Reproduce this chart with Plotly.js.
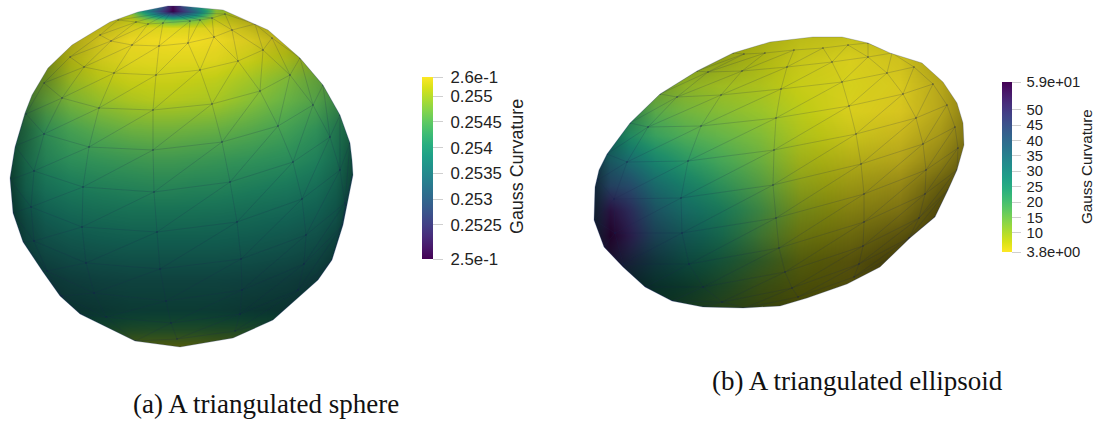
<!DOCTYPE html>
<html><head><meta charset="utf-8">
<script src="https://cdn.plot.ly/plotly-3.0.1.min.js"></script>
<style>html,body{margin:0;padding:0;background:#fff}#c{width:1098px;height:423px}</style>
</head><body><div id="c"></div>
<script>
// ---------- Sphere: surface samples ----------
const sphereX=[10,25,45,70,100,130,150,172,195,215,250,285,315,335,353];
const sphereY=[7,11,15,20,28,40,60,80,100,130,160,190,220,250,280,310,330,347];
// position on the colour bar (0 = bottom, 1 = top)
const sphereLevel=[
[1,1,1,1,.98,.9,.55,.02,.5,.9,.98,1,1,1,1],
[1,1,1,1,.98,.85,.42,0,.38,.85,.98,1,1,1,1],
[1,1,1,1,.98,.9,.62,.3,.55,.9,.98,1,1,1,1],
[.98,.98,.98,.98,.98,.95,.85,.75,.82,.95,.98,.98,.98,.98,.98],
[.97,.97,.97,.97,.98,.98,.98,.97,.98,.99,.98,.97,.97,.97,.97],
[.96,.96,.96,.98,.99,1,1,1,1,1,.99,.98,.96,.95,.95],
[.9,.9,.92,.95,.97,.98,.98,.98,.98,.98,.95,.92,.88,.87,.87],
[.84,.84,.86,.9,.93,.95,.95,.95,.94,.93,.89,.84,.81,.8,.8],
[.79,.79,.81,.84,.88,.91,.92,.92,.91,.9,.85,.8,.77,.75,.75],
[.67,.68,.7,.74,.78,.81,.82,.82,.81,.8,.77,.73,.69,.66,.65],
[.63,.64,.66,.68,.7,.72,.73,.73,.72,.71,.69,.67,.64,.62,.61],
[.58,.59,.6,.62,.64,.65,.66,.66,.65,.65,.63,.61,.59,.58,.57],
[.54,.54,.55,.57,.59,.6,.6,.6,.6,.59,.58,.56,.55,.54,.54],
[.51,.51,.52,.53,.54,.55,.55,.55,.55,.55,.54,.53,.52,.51,.51],
[.48,.48,.48,.49,.5,.51,.51,.51,.51,.51,.5,.49,.49,.49,.49],
[.5,.5,.5,.5,.52,.54,.55,.55,.55,.54,.52,.52,.52,.55,.55],
[.72,.72,.7,.68,.7,.74,.74,.74,.74,.74,.74,.76,.78,.78,.78],
[.92,.92,.92,.92,.92,.92,.92,.92,.92,.92,.92,.92,.92,.92,.92]];
// darkening of the surface by the lighting (0 = none, 1 = black)
const sphereShade=[
[.4,.4,.4,.4,.3,.15,.1,.1,.1,.15,.3,.4,.4,.4,.4],
[.4,.4,.4,.4,.3,.15,.1,.1,.1,.15,.3,.4,.4,.4,.4],
[.4,.4,.4,.4,.3,.15,.1,.08,.1,.15,.3,.4,.4,.4,.4],
[.4,.4,.4,.4,.28,.15,.1,.08,.1,.14,.28,.4,.4,.4,.4],
[.4,.4,.4,.35,.22,.11,.08,.06,.08,.1,.2,.32,.4,.4,.4],
[.4,.4,.4,.3,.16,.08,.06,.05,.05,.07,.13,.25,.4,.4,.4],
[.45,.45,.42,.24,.13,.08,.07,.07,.07,.08,.11,.18,.3,.42,.45],
[.48,.48,.38,.2,.13,.1,.09,.09,.09,.09,.11,.15,.25,.36,.45],
[.52,.48,.31,.18,.14,.12,.11,.11,.11,.11,.12,.15,.22,.34,.45],
[.6,.48,.28,.2,.18,.17,.17,.17,.17,.17,.18,.19,.24,.36,.52],
[.62,.44,.3,.24,.23,.23,.23,.23,.23,.23,.23,.24,.28,.38,.58],
[.64,.46,.35,.31,.3,.29,.29,.29,.29,.29,.3,.31,.35,.44,.62],
[.68,.54,.43,.39,.38,.37,.37,.37,.37,.37,.38,.39,.43,.5,.68],
[.72,.6,.52,.48,.46,.45,.45,.45,.45,.45,.46,.48,.52,.6,.72],
[.75,.7,.62,.58,.56,.55,.55,.55,.55,.55,.56,.58,.62,.7,.75],
[.75,.72,.7,.66,.64,.62,.62,.62,.62,.62,.64,.66,.7,.72,.75],
[.75,.72,.72,.7,.66,.64,.63,.63,.63,.64,.64,.66,.7,.72,.75],
[.72,.72,.72,.7,.66,.62,.6,.6,.6,.62,.64,.68,.72,.72,.72]];
const sphereOutlineX=[168,138,110,72,48,32,25,15,10,13,23,43,60,80,135,180,233,273,318,332,343,353,352,350,340,323,300,268,223,180];
const sphereOutlineY=[6,12,22,45,68,95,113,147,178,213,242,272,296,314,341,347,338,320,280,260,225,175,160,143,115,85,58,30,10,6];
const spherePole=[171,12];
// mesh vertices, one list per meridian
const sphereMeshX=[
[118,100,70,44,26,15,10,13,23,43,60],
[136,111,84,62,44,34,31,34,47,62,80],
[148,132,114,99,89,83,82,86,94,106,135],
[163,159,156,153,153,154,157,160,166,171,177],
[190,188,200,212,222,230,237,241,242,240,235],
[200,214,238,260,278,293,302,306,304,298,275],
[212,232,263,290,313,330,340,345,343,332,318],
[225,255,272,300,323,340,350,352,346,334,320]];
const sphereMeshY=[
[20,35,57,83,114,146,180,213,242,272,296],
[22,41,67,98,134,171,207,241,271,296,314],
[24,45,73,108,147,187,227,263,293,317,341],
[23,46,75,110,150,192,232,269,301,323,339],
[21,43,70,104,142,182,222,259,290,314,331],
[20,37,61,91,126,162,199,235,264,290,319],
[18,30,50,75,105,137,170,203,225,260,280],
[14,24,38,58,85,115,143,177,205,258,278]];

// ---------- Ellipsoid ----------
const ellX=[594,610,630,655,685,720,760,800,850,900,940,965];
const ellY=[37,60,85,110,135,160,185,210,235,260,285,308];
const ellLevel=[
[.92,.92,.92,.92,.92,.94,.95,.96,.97,.98,.98,.98],
[.88,.88,.88,.89,.9,.92,.94,.96,.98,.99,.99,.99],
[.78,.8,.83,.86,.88,.9,.92,.95,.97,.99,1,1],
[.68,.7,.73,.78,.82,.85,.88,.93,.98,1,1,1],
[.58,.6,.64,.7,.75,.79,.84,.92,.97,1,1,1],
[.42,.44,.48,.58,.66,.73,.81,.92,.97,1,1,1],
[.34,.3,.32,.48,.58,.68,.78,.91,.97,1,1,1],
[.3,.09,.2,.4,.52,.62,.75,.9,.97,1,1,1],
[.28,.02,.14,.36,.5,.62,.78,.92,.97,1,1,1],
[.3,.14,.25,.42,.55,.65,.78,.92,.98,1,1,1],
[.42,.4,.44,.55,.62,.72,.85,.93,.98,1,1,1],
[.6,.6,.62,.66,.72,.8,.88,.95,.98,1,1,1]];
const ellShade=[
[.35,.35,.35,.35,.35,.32,.25,.18,.16,.22,.35,.35],
[.35,.35,.35,.35,.33,.28,.2,.13,.1,.16,.33,.4],
[.4,.4,.38,.32,.2,.16,.14,.1,.09,.13,.28,.42],
[.45,.45,.38,.18,.15,.13,.11,.1,.1,.15,.28,.45],
[.5,.42,.23,.16,.14,.13,.13,.14,.15,.22,.35,.5],
[.58,.33,.23,.19,.17,.16,.18,.22,.25,.3,.45,.6],
[.62,.33,.26,.25,.24,.24,.26,.3,.35,.42,.6,.7],
[.68,.45,.35,.32,.3,.32,.35,.4,.45,.52,.7,.75],
[.72,.55,.42,.42,.42,.42,.45,.5,.55,.65,.75,.8],
[.72,.65,.6,.58,.55,.55,.58,.6,.65,.75,.8,.8],
[.78,.75,.75,.7,.68,.65,.65,.66,.68,.8,.8,.8],
[.78,.78,.78,.76,.72,.7,.7,.7,.72,.8,.8,.8]];
const ellOutlineX=[770,813,842,868,890,922,943,957,963,964,957,948,935,910,880,847,807,780,743,703,672,645,623,604,594,595,599,607,630,660,697,733];
const ellOutlineY=[42,37,37,43,53,63,82,103,123,145,170,190,217,238,267,284,298,306,308,307,301,287,267,247,220,187,170,154,123,94,71,53];
const ellMeshX=[
[733,697,660,630,607,598,594,604,623,645,672],
[744,708,677,648,627,614,615,623,645,672,700],
[765,742,721,701,688,681,682,689,703,722,745],
[794,787,781,776,774,773,776,779,785,792,798],
[823,832,842,849,856,861,864,864,863,859,854],
[848,868,887,903,916,923,926,925,919,909,890],
[868,892,914,933,947,955,958,957,948,935,910]];
const ellMeshY=[
[53,71,94,123,154,180,220,247,267,287,301],
[54,72,97,127,162,199,233,264,287,301,307],
[53,71,95,126,161,198,233,264,287,302,308],
[50,67,89,118,150,185,218,248,272,288,297],
[48,62,82,106,134,164,194,222,246,264,277],
[45,57,73,94,118,144,170,194,218,238,258],
[43,53,67,84,105,127,148,170,190,217,238]];

// ---------- Colour bars ----------
const sphereMin=0.25184, sphereMax=0.25537;
const sphereTicks=[0.25184,0.2525,0.253,0.2535,0.254,0.2545,0.255,0.25537];
const sphereTickText=['2.5e-1','0.2525','0.253','0.2535','0.254','0.2545','0.255','2.6e-1'];
const ellMin=3.8, ellMax=59;
const ellTicks=[3.8,10,15,20,25,30,35,40,45,50,59];
const ellTickText=['3.8e+00','10','15','20','25','30','35','40','45','50','5.9e+01'];

const W=1098,H=423;
const levels=(m,lo,hi)=>m.map(r=>r.map(v=>lo+v*(hi-lo)));
const shadeScale=[[0,'rgba(0,0,0,0)'],[1,'rgba(0,0,0,1)']];
function meshLines(mx,my,pole){
  const X=[],Y=[];
  const add=(a,b,c,d)=>{X.push(a,c,null);Y.push(b,d,null);};
  for(let i=0;i<mx.length;i++)for(let k=0;k<mx[i].length;k++){
    if(k+1<mx[i].length)add(mx[i][k],my[i][k],mx[i][k+1],my[i][k+1]);
    if(i+1<mx.length){
      add(mx[i][k],my[i][k],mx[i+1][k],my[i+1][k]);
      if(k+1<mx[i].length)add(mx[i+1][k],my[i+1][k],mx[i][k+1],my[i][k+1]);
    }
    if(pole&&k===0)add(pole[0],pole[1],mx[i][0],my[i][0]);
  }
  return {X,Y};
}
function poly(xs,ys){return xs.map((x,i)=>(i?'L':'M')+x+','+ys[i]).join(' ')+' Z';}
const sM=meshLines(sphereMeshX,sphereMeshY,spherePole), eM=meshLines(ellMeshX,ellMeshY,null);
const lineStyle={color:'rgba(25,35,80,0.27)',width:0.7};
const cbBase={lenmode:'pixels',thicknessmode:'pixels',outlinewidth:0,xpad:0,ypad:0,xanchor:'left',yanchor:'top',
  ticks:'outside',tickcolor:'#cfcfcf',tickwidth:1,tickmode:'array'};
const data=[
 {type:'heatmap',x:sphereX,y:sphereY,z:levels(sphereLevel,sphereMin,sphereMax),zmin:sphereMin,zmax:sphereMax,zsmooth:'best',colorscale:'Viridis',
  colorbar:Object.assign({},cbBase,{x:422/W,y:1-77/H,len:182,thickness:11,ticklen:10,tickvals:sphereTicks,ticktext:sphereTickText.map(t=>'\u00a0'+t),
    tickfont:{family:'Liberation Sans',size:16.8,color:'#222'}})},
 {type:'heatmap',x:sphereX,y:sphereY,z:sphereShade,zmin:0,zmax:1,zsmooth:'best',colorscale:shadeScale,showscale:false},
 {type:'heatmap',x:ellX,y:ellY,z:ellLevel.map(r=>r.map(v=>ellMax-v*(ellMax-ellMin))),zmin:ellMin,zmax:ellMax,zsmooth:'best',colorscale:'Viridis',reversescale:true,
  colorbar:Object.assign({},cbBase,{x:1002/W,y:1-82/H,len:170,thickness:9.5,ticklen:9,tickvals:ellTicks,ticktext:ellTickText.map(t=>'\u2009'+t),
    tickfont:{family:'Liberation Sans',size:14.8,color:'#222'}})},
 {type:'heatmap',x:ellX,y:ellY,z:ellShade,zmin:0,zmax:1,zsmooth:'best',colorscale:shadeScale,showscale:false},
 {type:'scatter',mode:'lines',x:sM.X,y:sM.Y,line:lineStyle,hoverinfo:'skip',showlegend:false},
 {type:'scatter',mode:'lines',x:eM.X,y:eM.Y,line:lineStyle,hoverinfo:'skip',showlegend:false},
 {type:'scatter',mode:'markers',x:sphereMeshX.flat().concat(ellMeshX.flat()),y:sphereMeshY.flat().concat(ellMeshY.flat()),
  marker:{size:1.8,color:'rgba(20,30,80,0.35)'},hoverinfo:'skip',showlegend:false}
];
const layout={width:W,height:H,margin:{l:0,r:0,t:0,b:0},paper_bgcolor:'#fff',plot_bgcolor:'#fff',showlegend:false,
 xaxis:{range:[0,W],visible:false,fixedrange:true},yaxis:{range:[H,0],visible:false,fixedrange:true},
 shapes:[
  {type:'path',layer:'above',xref:'x',yref:'y',fillrule:'evenodd',fillcolor:'#fff',line:{width:0},
   path:'M-5,-20 L390,-20 L390,362 L-5,362 Z '+poly(sphereOutlineX,sphereOutlineY)},
  {type:'path',layer:'above',xref:'x',yref:'y',fillrule:'evenodd',fillcolor:'#fff',line:{width:0},
   path:'M575,15 L985,15 L985,330 L575,330 Z '+poly(ellOutlineX,ellOutlineY)},
  {type:'path',layer:'above',xref:'x',yref:'y',fillcolor:'rgba(0,0,0,0)',line:{width:0.8,color:'rgba(40,60,120,0.3)'},path:poly(sphereOutlineX,sphereOutlineY)},
  {type:'path',layer:'above',xref:'x',yref:'y',fillcolor:'rgba(0,0,0,0)',line:{width:0.8,color:'rgba(40,60,120,0.3)'},path:poly(ellOutlineX,ellOutlineY)}
 ],
 annotations:[
  {text:'Gauss Curvature',xref:'paper',yref:'paper',x:517/W,y:1-167/H,textangle:-90,showarrow:false,xanchor:'center',yanchor:'middle',font:{family:'Liberation Sans',size:17.9,color:'#222'}},
  {text:'Gauss Curvature',xref:'paper',yref:'paper',x:1086/W,y:1-167/H,textangle:-90,showarrow:false,xanchor:'center',yanchor:'middle',font:{family:'Liberation Sans',size:15.2,color:'#222'}},
  {text:'(a) A triangulated sphere',xref:'paper',yref:'paper',x:265.5/W,y:1-404/H,showarrow:false,xanchor:'center',yanchor:'middle',font:{family:'Liberation Serif',size:27,color:'#111'}},
  {text:'(b) A triangulated ellipsoid',xref:'paper',yref:'paper',x:857.5/W,y:1-381/H,showarrow:false,xanchor:'center',yanchor:'middle',font:{family:'Liberation Serif',size:27,color:'#111'}}
 ]};
Plotly.newPlot('c',data,layout,{displayModeBar:false,staticPlot:true});
</script></body></html>
